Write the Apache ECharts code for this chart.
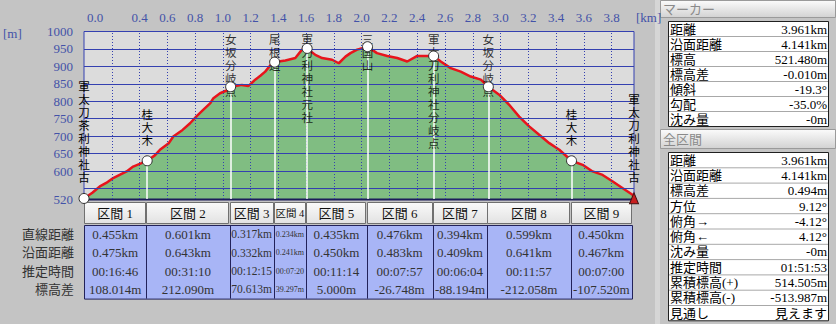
<!DOCTYPE html>
<html><head><meta charset="utf-8">
<script src="https://cdn.jsdelivr.net/npm/echarts@6/dist/echarts.min.js"></script>
<style>html,body{margin:0;padding:0;background:#c4c4c4;}#c{width:836px;height:324px;}</style>
</head><body><div id="c"></div>
<script>
// ---- data ----
const profileDist = [0, 0.06, 0.114, 0.16, 0.21, 0.26, 0.307, 0.354, 0.41, 0.455, 0.51, 0.547, 0.61, 0.643, 0.71, 0.764, 0.81, 0.86, 0.91, 0.932, 0.98, 1.04, 1.056, 1.11, 1.137, 1.185, 1.233, 1.27, 1.305, 1.354, 1.373, 1.401, 1.45, 1.522, 1.57, 1.607, 1.666, 1.715, 1.787, 1.835, 1.883, 1.919, 1.967, 2.042, 2.11, 2.184, 2.256, 2.328, 2.40, 2.473, 2.518, 2.569, 2.641, 2.713, 2.785, 2.858, 2.912, 2.99, 3.062, 3.134, 3.206, 3.278, 3.351, 3.423, 3.511, 3.591, 3.663, 3.735, 3.808, 3.88, 3.95, 3.961];
const profileElev = [521.5, 538, 556, 566, 580, 590, 599, 613, 622, 629.5, 645, 661, 680, 699, 718, 737, 757, 776, 795, 809, 823, 833, 841.6, 845, 847, 844, 862, 873, 885, 909, 912.2, 914, 917, 924, 948, 951.5, 933, 924, 919, 909, 928, 938, 948, 956.5, 938, 930, 924, 914, 930, 930, 929.8, 914, 895, 885, 871, 862, 841.6, 819, 790, 756, 728, 704, 680, 661, 629.5, 618, 599, 589, 570, 551, 532, 522];
const waypointDist = [0, 0.455, 1.056, 1.373, 1.607, 2.042, 2.518, 2.912, 3.511, 3.961];
const waypointElev = [521.5, 629.5, 841.6, 912.2, 951.5, 956.5, 929.8, 841.6, 629.5, 522];
const waypointNames = ['軍太刀茶利神社古', '桂大木', '女坂分岐点', '尾根道', '軍刀利神社元社', '三国山', '軍太刀利神社分岐点', '女坂分岐点', '桂大木', '軍太刀利神社古'];
const xTickLabels = ['0.0', '', '0.4', '0.6', '0.8', '1.0', '1.2', '1.4', '1.6', '1.8', '2.0', '2.2', '2.4', '2.6', '2.8', '3.0', '3.2', '3.4', '3.6', '3.8'];
const yTickLabels = [520, 600, 650, 700, 750, 800, 850, 900, 950, 1000];
const yGridValues = [550, 600, 650, 700, 750, 800, 850, 900, 950, 1000];
const xGridValues = [0.2, 0.4, 0.6, 0.8, 1.0, 1.2, 1.4, 1.6, 1.8, 2.0, 2.2, 2.4, 2.6, 2.8, 3.0, 3.2, 3.4, 3.6, 3.8];
const sectionNames = ['区間 1', '区間 2', '区間 3', '区間 4', '区間 5', '区間 6', '区間 7', '区間 8', '区間 9'];
const rowLabels = ['直線距離', '沿面距離', '推定時間', '標高差'];
const straightDist = ['0.455km', '0.601km', '0.317km', '0.234km', '0.435km', '0.476km', '0.394km', '0.599km', '0.450km'];
const surfaceDist = ['0.475km', '0.643km', '0.332km', '0.241km', '0.450km', '0.483km', '0.409km', '0.641km', '0.467km'];
const estTime = ['00:16:46', '00:31:10', '00:12:15', '00:07:20', '00:11:14', '00:07:57', '00:06:04', '00:11:57', '00:07:00'];
const elevDiff = ['108.014m', '212.090m', '70.613m', '39.297m', '5.000m', '-26.748m', '-88.194m', '-212.058m', '-107.520m'];
const markerTitle = 'マーカー';
const markerLabels = ['距離', '沿面距離', '標高', '標高差', '傾斜', '勾配', '沈み量'];
const markerValues = ['3.961km', '4.141km', '521.480m', '-0.010m', '-19.3°', '-35.0%', '-0m'];
const totalTitle = '全区間';
const totalLabels = ['距離', '沿面距離', '標高差', '方位', '俯角→', '俯角←', '沈み量', '推定時間', '累積標高(+)', '累積標高(-)', '見通し'];
const totalValues = ['3.961km', '4.141km', '0.494m', '9.12°', '-4.12°', '4.12°', '-0m', '01:51:53', '514.505m', '-513.987m', '見えます'];

// ---- styles ----
const axisColor = '#4352a8';
const serif = '"Liberation Serif", "Noto Sans CJK JP"';
const jp = '"Liberation Serif", "Noto Sans CJK JP"';
const grid = {left: 84, top: 31.5, width: 550, height: 167.5};
const pxPerM = grid.height / (1000 - 520);
const lineH = 13;

const chart = echarts.init(document.getElementById('c'), null, {renderer: 'svg', width: 836, height: 324});

const profile = profileDist.map((d, i) => [d, profileElev[i]]);
const fits = waypointNames.map((n, i) => (n.length * lineH + 18) <= (1000 - waypointElev[i]) * pxPerM);
const labelStyle = {fontFamily: jp, fontSize: 11.5, lineHeight: lineH, color: '#000', align: 'center'};
const vert = s => s.split('').join('\n');

const markerData = waypointDist.map((d, i) => {
  const last = i === waypointDist.length - 1;
  return {
    name: waypointNames[i], value: [d, waypointElev[i]],
    symbol: last ? 'triangle' : 'circle',
    symbolSize: last ? [9, 11] : 10,
    itemStyle: last ? {color: '#c81e1e', borderColor: '#401010', borderWidth: 1} : undefined,
    label: {show: fits[i], position: 'top', distance: 8, formatter: p => vert(p.name), ...labelStyle}
  };
});
const topLabelData = waypointDist.map((d, i) => fits[i] ? null : {name: waypointNames[i], value: [d, 1000]}).filter(Boolean);

const option = {
  animation: false,
  backgroundColor: '#c4c4c4',
  grid: {...grid, show: true, backgroundColor: '#dcdcdc', borderColor: '#3440b0', borderWidth: 1, containLabel: false, outerBoundsMode: 'none'},
  xAxis: {
    type: 'value', position: 'top', min: 0, max: 3.961, interval: 0.2,
    axisLine: {show: false}, axisTick: {show: false}, splitLine: {show: false},
    axisLabel: {
      margin: 8, color: axisColor, fontFamily: serif, fontSize: 13, showMinLabel: true, showMaxLabel: true,
      formatter: v => {
        const i = Math.round(v / 0.2);
        if (Math.abs(v - i * 0.2) > 1e-6) return '';
        const s = xTickLabels[i];
        if (!s) return '';
        return i === 0 ? '{first|' + s + '}' : s;
      },
      rich: {first: {padding: [0, 0, 0, 22], color: axisColor, fontFamily: serif, fontSize: 13}}
    }
  },
  yAxis: {
    type: 'value', min: 520, max: 1000, interval: 10,
    axisLine: {show: false}, axisTick: {show: false}, splitLine: {show: false},
    axisLabel: {margin: 11, color: axisColor, fontFamily: serif, fontSize: 13, showMinLabel: true, showMaxLabel: true,
      formatter: v => yTickLabels.includes(Math.round(v)) ? String(Math.round(v)) : ''}
  },
  series: [
    {type: 'line', data: profile, symbol: 'none', silent: true, z: 1,
      lineStyle: {width: 0, opacity: 0}, areaStyle: {color: '#80bd82', opacity: 1, origin: 'start'}},
    {type: 'line', data: [], symbol: 'none', silent: true, z: 2,
      markLine: {silent: true, symbol: ['none', 'none'], animation: false, label: {show: false},
        data: [
          ...yGridValues.map(v => ({yAxis: v, lineStyle: {color: '#3440b0', width: 1, type: 'solid'}})),
          ...xGridValues.map(v => ({xAxis: v, lineStyle: {color: '#3440b0', width: 1, type: [1, 2]}}))
        ]}},
    {type: 'line', data: [], symbol: 'none', silent: true, z: 3,
      markLine: {silent: true, symbol: ['none', 'none'], animation: false, label: {show: false},
        lineStyle: {color: '#ffffff', width: 1.5, type: 'solid'},
        data: waypointDist.slice(1, -1).map((d, k) => [{coord: [d, waypointElev[k + 1]]}, {coord: [d, 520]}])}},
    {type: 'line', data: profile, symbol: 'none', silent: true, z: 4,
      lineStyle: {color: '#e8141c', width: 2.5}},
    {type: 'scatter', data: topLabelData, symbolSize: 0, silent: true, z: 5,
      label: {show: true, position: 'bottom', distance: 1.5, formatter: p => vert(p.name), ...labelStyle}},
    {type: 'scatter', data: markerData, silent: true, z: 6,
      itemStyle: {color: '#ffffff', borderColor: '#303030', borderWidth: 1, opacity: 1}}
  ],
  graphic: []
};
chart.setOption(option);

// ---- side panel & table ----
const g = [];
const txt = (text, x, y, align, font, fill, z) => ({type: 'text', z: z || 10, silent: true,
  style: {text, x, y, align, verticalAlign: 'middle', textAlign: align, textVerticalAlign: 'middle', font, fill}});

g.push(txt('[m]', 3, 33, 'left', '13px ' + serif, axisColor));
g.push(txt('[km]', 636, 17, 'left', '13px ' + serif, axisColor));

// panel strip
g.push({type: 'rect', z: 1, silent: true, shape: {x: 655, y: 0, width: 5, height: 324}, style: {fill: '#d6d6d6'}});
function header(y, h, title) {
  g.push({type: 'rect', z: 2, silent: true, shape: {x: 660.5, y: y + 0.5, width: 175, height: h},
    style: {fill: new echarts.graphic.LinearGradient(0, 0, 0, 1, [{offset: 0, color: '#fbfbfb'}, {offset: 1, color: '#d2d2d2'}]), stroke: '#9a9a9a', lineWidth: 1}});
  g.push(txt(title, 663, y + h / 2 + 1, 'left', '13px ' + jp, '#8a8a8a'));
}
function box(y, rowH, labels, values) {
  const h = rowH * labels.length;
  g.push({type: 'rect', z: 2, silent: true, shape: {x: 668.5, y: y + 0.5, width: 160, height: h}, style: {fill: '#ffffff', stroke: '#202020', lineWidth: 1}});
  labels.forEach((l, i) => {
    const cy = y + rowH * (i + 0.5) + 0.5;
    if (i > 0) g.push({type: 'line', z: 3, silent: true, shape: {x1: 669, y1: y + rowH * i + 0.5, x2: 828, y2: y + rowH * i + 0.5}, style: {stroke: '#a8a8a8', lineWidth: 1}});
    g.push(txt(l, 670, cy, 'left', '13px ' + jp, '#000'));
    g.push(txt(values[i], 827, cy, 'right', '13px ' + serif, '#000'));
  });
}
header(0, 17, markerTitle);
box(21, 15, markerLabels, markerValues);
header(129, 19, totalTitle);
box(152, 15.3, totalLabels, totalValues);

// table under plot
const px = d => chart.convertToPixel({xAxisIndex: 0}, d);
const py = e => chart.convertToPixel({yAxisIndex: 0}, e);
const bx = waypointDist.map(px);
const bottomY = py(520);
const n = sectionNames.length;
const colL = i => i === 0 ? bx[0] : bx[i] - 1;
const colR = i => i === n - 1 ? bx[n] - 2 : bx[i + 1] - 1;
const headTop = bottomY + 3, headH = 22;
const bodyTop = headTop + headH + 0.5, rowH = 18.4;
g.push({type: 'rect', z: 5, silent: true, shape: {x: bx[0], y: bottomY - 0.5, width: bx[n] - bx[0], height: 2}, style: {fill: '#1c1c5a'}});
for (let i = 0; i < n; i++) {
  const l = colL(i), r = colR(i);
  g.push({type: 'rect', z: 5, silent: true, shape: {x: Math.round(l) + 0.5, y: headTop + 0.5, width: Math.round(r - l) - 1, height: headH - 1},
    style: {fill: new echarts.graphic.LinearGradient(0, 0, 0, 1, [{offset: 0, color: '#fafafa'}, {offset: 1, color: '#e2e2e2'}]), stroke: '#707070', lineWidth: 1}});
}
const bodyR = colR(n - 1);
g.push({type: 'rect', z: 5, silent: true, shape: {x: Math.round(bx[0]) + 0.5, y: Math.round(bodyTop) + 0.5, width: Math.round(bodyR - bx[0]), height: rowH * rowLabels.length},
  style: {fill: '#a8b5f6', stroke: '#22225a', lineWidth: 1}});
for (let i = 1; i < n; i++) {
  const x = Math.round(colL(i)) + 0.5;
  g.push({type: 'line', z: 6, silent: true, shape: {x1: x, y1: Math.round(bodyTop), x2: x, y2: Math.round(bodyTop) + rowH * rowLabels.length}, style: {stroke: '#22225a', lineWidth: 1}});
}
rowLabels.forEach((l, j) => g.push(txt(l, bx[0] - 10, bodyTop + rowH * (j + 0.5) + 0.5, 'right', '13px ' + jp, '#333')));

// cell texts, shrunk to fit narrow columns
const mctx = document.createElement('canvas').getContext('2d');
function fitFont(text, maxW) {
  let s = 13;
  while (s > 6) {
    mctx.font = s + 'px ' + serif;
    if (mctx.measureText(text).width <= maxW) break;
    s -= 0.5;
  }
  return s + 'px ' + serif;
}
const rows = [straightDist, surfaceDist, estTime, elevDiff];
for (let i = 0; i < n; i++) {
  const l = colL(i), r = colR(i), cx = (l + r) / 2, w = r - l - 3;
  g.push(txt(sectionNames[i], cx, headTop + headH / 2 + 0.5, 'center', fitFont(sectionNames[i], w), '#111', 12));
  rows.forEach((arr, j) => g.push(txt(arr[i], cx, bodyTop + rowH * (j + 0.5) + 0.5, 'center', fitFont(arr[i], w), '#333', 12)));
}
chart.setOption({graphic: g});
</script></body></html>
